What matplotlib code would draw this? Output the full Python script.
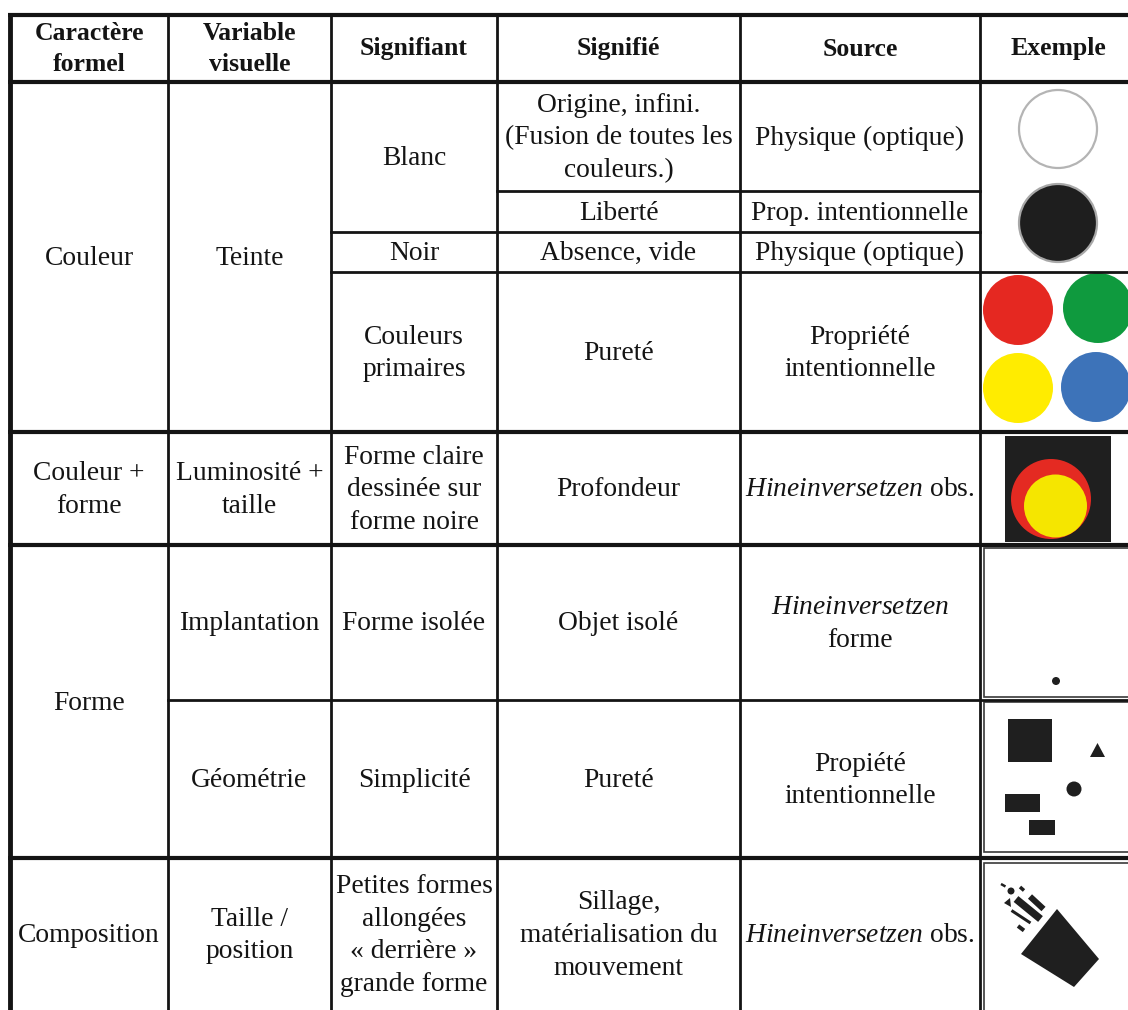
import matplotlib
matplotlib.use("Agg")
import matplotlib.pyplot as plt
from matplotlib.patches import Circle, Rectangle, Polygon
from math import hypot

plt.rcParams['font.family'] = 'Liberation Serif'
plt.rcParams['mathtext.fontset'] = 'custom'
plt.rcParams['mathtext.rm'] = 'Liberation Serif'
plt.rcParams['mathtext.it'] = 'Liberation Serif:italic'

INK = '#141414'

# ---- table content ----
headers = ["Caractère\nformel", "Variable\nvisuelle", "Signifiant",
           "Signifié", "Source", "Exemple"]

caractere = ["Couleur", "Couleur +\nforme", "Forme", "Composition"]
variable = ["Teinte", "Luminosité +\ntaille", "Implantation", "Géométrie",
            "Taille /\nposition"]
signifiant = ["Blanc", "Noir", "Couleurs\nprimaires",
              "Forme claire\ndessinée sur\nforme noire", "Forme isolée",
              "Simplicité",
              "Petites formes\nallongées\n« derrière »\ngrande forme"]
signifie = ["Origine, infini.\n(Fusion de toutes les\ncouleurs.)", "Liberté",
            "Absence, vide", "Pureté", "Profondeur", "Objet isolé", "Pureté",
            "Sillage,\nmatérialisation du\nmouvement"]
source = ["Physique (optique)", "Prop. intentionnelle", "Physique (optique)",
          "Propriété\nintentionnelle", r"$\mathit{Hineinversetzen}$ obs.",
          "$\\mathit{Hineinversetzen}$\nforme", "Propiété\nintentionnelle",
          r"$\mathit{Hineinversetzen}$ obs."]

primary_colors = ['#e52821', '#0f9a3e', '#ffec00', '#3d73b9']

# ---- layout (pixels) ----
col_x = [10, 168, 331, 497, 740, 980, 1128]
y_top, y_head, y_bot = 15, 82, 1010

caractere_span = [(82, 432), (432, 545), (545, 858), (858, 1010)]
variable_span = [(82, 432), (432, 545), (545, 700), (700, 858), (858, 1010)]
signifiant_span = [(82, 232), (232, 272), (272, 432), (432, 545), (545, 700),
                   (700, 858), (858, 1010)]
signifie_span = [(82, 191), (191, 232), (232, 272), (272, 432), (432, 545),
                 (545, 700), (700, 858), (858, 1010)]

fig = plt.figure(figsize=(11.28, 10.10), dpi=100)
ax = fig.add_axes([0, 0, 1, 1])
ax.set_xlim(0, 1128)
ax.set_ylim(1010, 0)
ax.axis('off')

FS = 19.8
LS = 1.40


def put(col, span, txt, **kw):
    cx = (col_x[col] + col_x[col + 1]) / 2
    cy = (span[0] + span[1]) / 2 + 1.5
    ax.text(cx, cy, txt, ha='center', va='center', ma='center',
            fontsize=FS, color=INK, linespacing=LS, **kw)


# headers
for i, h in enumerate(headers):
    cx = (col_x[i] + col_x[i + 1]) / 2 if i < 5 else 1058
    ax.text(cx, (y_top + y_head) / 2 + 0.5, h, ha='center', va='center',
            fontsize=18.5, fontweight='bold', color=INK, linespacing=1.42)

for t, s in zip(caractere, caractere_span):
    put(0, s, t)
for t, s in zip(variable, variable_span):
    put(1, s, t)
for t, s in zip(signifiant, signifiant_span):
    put(2, s, t)
for t, s in zip(signifie, signifie_span):
    put(3, s, t)
for t, s in zip(source, signifie_span):
    put(4, s, t)

# ---- grid lines ----
THICK, THIN = 3.0, 2.0
for y in [y_top, y_head, 432, 545, 858]:
    ax.plot([col_x[0] - 2, 1128], [y, y], color=INK, lw=THICK,
            solid_capstyle='butt')
ax.plot([col_x[0], col_x[0]], [y_top, y_bot], color=INK, lw=THICK + 0.5,
        solid_capstyle='butt')
for x in col_x[1:-1]:
    ax.plot([x, x], [y_top, y_bot], color=INK, lw=THIN, solid_capstyle='butt')
ax.plot([col_x[3], col_x[5]], [191, 191], color=INK, lw=THIN)
ax.plot([col_x[2], col_x[5]], [232, 232], color=INK, lw=THIN)
ax.plot([col_x[2], 1128], [272, 272], color=INK, lw=THIN)
ax.plot([col_x[1], 1128], [700, 700], color=INK, lw=THIN)

# ---- example pictograms ----
ax.add_patch(Circle((1058, 129), 39, facecolor='white', edgecolor='#b4b4b4',
                    lw=1.6))
ax.add_patch(Circle((1058, 223), 39, facecolor='#1e1e1e', edgecolor='#a8a8a8',
                    lw=1.6))
for c, (px, py) in zip(primary_colors,
                       [(1018, 310), (1098, 308), (1018, 388), (1096, 387)]):
    ax.add_patch(Circle((px, py), 35, facecolor=c, edgecolor='none'))

ax.add_patch(Rectangle((1005, 436), 106, 106, facecolor='#1f1f1f',
                       edgecolor='none'))
ax.add_patch(Circle((1051, 499), 40, facecolor='#e42a22', edgecolor='none'))
ax.add_patch(Circle((1055.5, 506), 31.5, facecolor='#f5e600',
                    edgecolor='none'))

for (fy0, fy1) in [(548, 697), (702, 852), (863, 1015)]:
    ax.add_patch(Rectangle((984, fy0), 150, fy1 - fy0, facecolor='white',
                           edgecolor='#3a3a3a', lw=1.2))

ax.add_patch(Circle((1056, 681), 4, facecolor='#1f1f1f', edgecolor='none'))

ax.add_patch(Rectangle((1008, 719), 44, 43, facecolor='#1f1f1f'))
ax.add_patch(Polygon([(1090, 757), (1097.5, 743), (1105, 757)],
                     facecolor='#1f1f1f'))
ax.add_patch(Circle((1074, 789), 7.5, facecolor='#1f1f1f', edgecolor='none'))
ax.add_patch(Rectangle((1005, 794), 35, 18, facecolor='#1f1f1f'))
ax.add_patch(Rectangle((1029, 820), 26, 15, facecolor='#1f1f1f'))


def bar(p0, p1, w):
    dx, dy = p1[0] - p0[0], p1[1] - p0[1]
    L = hypot(dx, dy)
    nx, ny = -dy / L * w / 2, dx / L * w / 2
    return Polygon([(p0[0] + nx, p0[1] + ny), (p1[0] + nx, p1[1] + ny),
                    (p1[0] - nx, p1[1] - ny), (p0[0] - nx, p0[1] - ny)],
                   facecolor='#1f1f1f', edgecolor='none')


ax.add_patch(Polygon([(1057, 909), (1099, 959), (1074, 987), (1021, 954)],
                     facecolor='#1f1f1f', edgecolor='none'))
for p0, p1, w in [((1001, 884), (1005.5, 886.5), 2.5),
                  ((1020, 887), (1024, 890.5), 3.5),
                  ((1016, 899), (1040.5, 919), 7.5),
                  ((1030, 896.5), (1043.5, 909), 6),
                  ((1011.5, 910.5), (1030.5, 923), 3),
                  ((1018, 926), (1024, 930.5), 4)]:
    ax.add_patch(bar(p0, p1, w))
ax.add_patch(Circle((1011, 891), 3.5, facecolor='#1f1f1f', edgecolor='none'))
ax.add_patch(Polygon([(1004, 903), (1010, 898), (1011, 907)],
                     facecolor='#1f1f1f', edgecolor='none'))

fig.savefig('out.png', dpi=100)
